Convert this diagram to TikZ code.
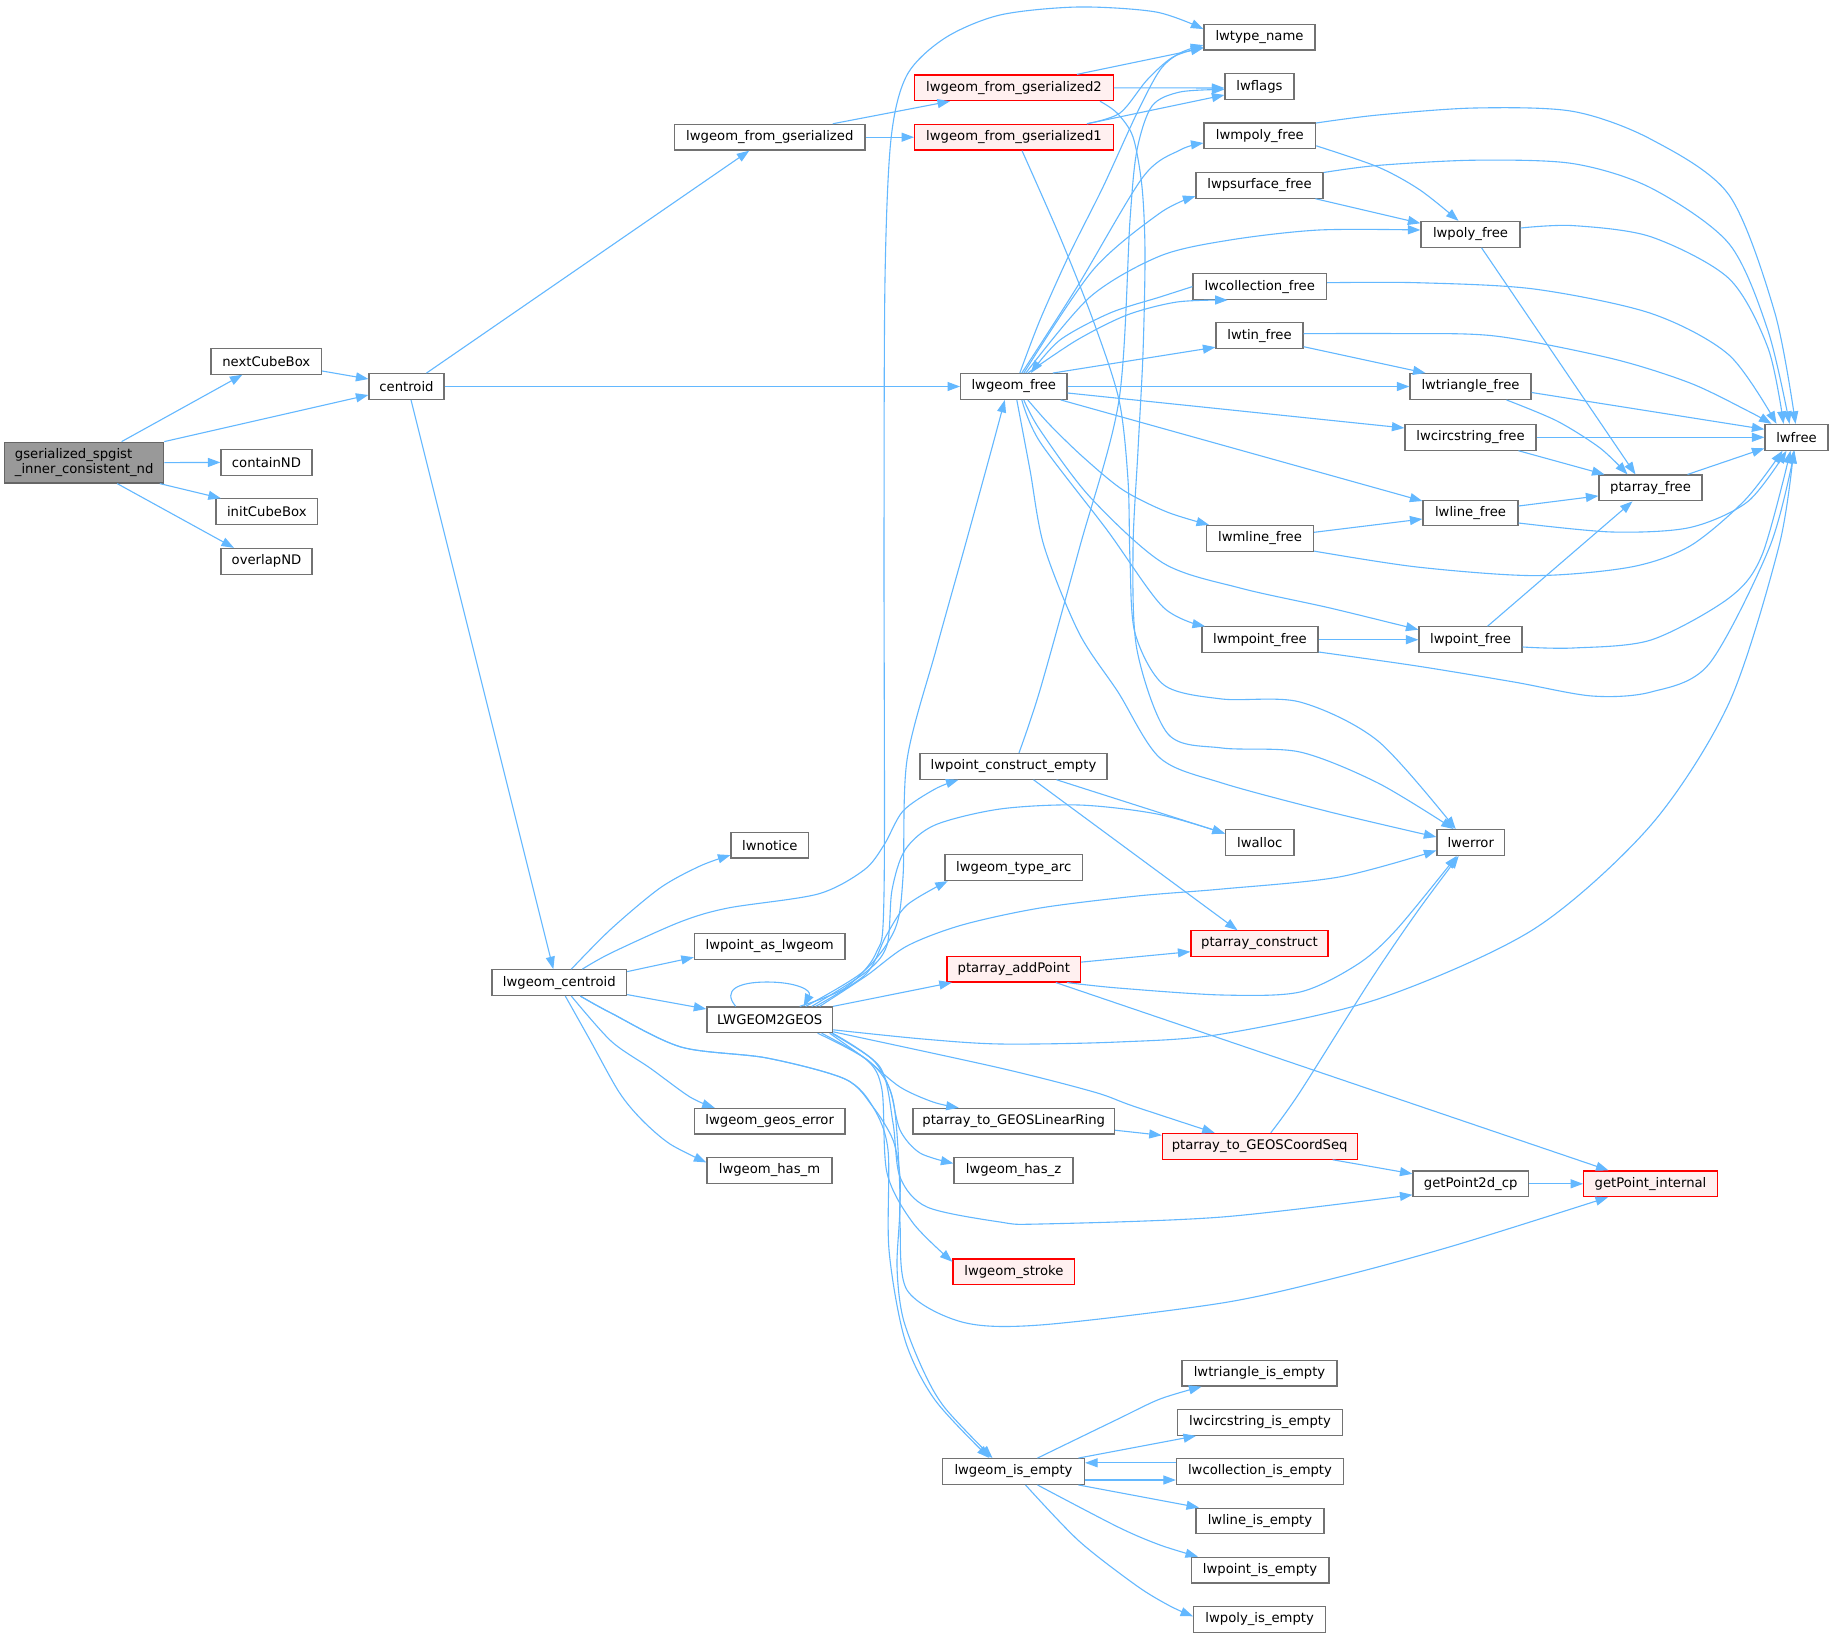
\documentclass[tikz,border=0pt]{standalone}
\usepackage{fontspec}
\setmainfont{DejaVu Sans}
\usetikzlibrary{arrows.meta}
\definecolor{edgec}{HTML}{63B8FF}
\definecolor{bordc}{HTML}{727272}
\definecolor{rootfill}{HTML}{999999}
\definecolor{rootbord}{HTML}{666666}
\definecolor{redfill}{HTML}{FFF0F0}
\definecolor{redbord}{HTML}{FF0000}
\tikzset{
  nb/.style={draw=bordc, fill=white, line width=1.2pt, minimum height=25.7pt, inner sep=0pt, font=\fontsize{13.2}{15}\selectfont},
  rb/.style={nb, draw=redbord, fill=redfill},
  cg/.style={draw=edgec, line width=1.1pt, -{Triangle[length=12.5pt,width=9pt]}, fill=none},
}
\begin{document}
\begin{tikzpicture}[x=1pt,y=-1pt]
\useasboundingbox (0,0) rectangle (1833,1638);
\fill[white] (0,0) rectangle (1833,1638);
% ---------- nodes ----------
\node[nb, fill=rootfill, draw=rootbord, minimum width=159pt, minimum height=40.8pt, align=left, font=\fontsize{13.2}{14.5}\selectfont] (root) at (84.2,462.6) {gserialized\_spgist\\\_inner\_consistent\_nd};
\node[nb, minimum width=110.5pt] (ncb) at (266.3,361.3) {nextCubeBox};
\node[nb, minimum width=75pt] (cen) at (406.5,386.5) {centroid};
\node[nb, minimum width=91pt] (cnd) at (266.5,462.4) {containND};
\node[nb, minimum width=101.6pt] (icb) at (266.8,511.7) {initCubeBox};
\node[nb, minimum width=91pt] (ond) at (266.5,561.3) {overlapND};
\node[nb, minimum width=190.5pt] (fg) at (769.8,137.2) {lwgeom\_from\_gserialized};
\node[rb, minimum width=198.7pt] (fg2) at (1014,87.8) {lwgeom\_from\_gserialized2};
\node[rb, minimum width=198.7pt] (fg1) at (1014,137.2) {lwgeom\_from\_gserialized1};
\node[nb, minimum width=111pt] (tn) at (1259.5,37.1) {lwtype\_name};
\node[nb, minimum width=69pt] (fl) at (1259.5,86.5) {lwflags};
\node[nb, minimum width=111.5pt] (mpf) at (1259.8,135.8) {lwmpoly\_free};
\node[nb, minimum width=127pt] (psf) at (1259.5,185.3) {lwpsurface\_free};
\node[nb, minimum width=99pt] (pf) at (1470.5,234.3) {lwpoly\_free};
\node[nb, minimum width=133.4pt] (cf) at (1259.7,286.6) {lwcollection\_free};
\node[nb, minimum width=87pt] (tf) at (1259.5,335.7) {lwtin\_free};
\node[nb, minimum width=106.4pt] (gf) at (1013.8,386.5) {lwgeom\_free};
\node[nb, minimum width=121pt] (trf) at (1470.5,386.5) {lwtriangle\_free};
\node[nb, minimum width=131pt] (csf) at (1470.5,437.3) {lwcircstring\_free};
\node[nb, minimum width=63pt] (fr) at (1796.5,437.3) {lwfree};
\node[nb, minimum width=103pt] (paf) at (1650.5,487.9) {ptarray\_free};
\node[nb, minimum width=95pt] (lf) at (1470.5,513) {lwline\_free};
\node[nb, minimum width=107pt] (mlf) at (1260,538.3) {lwmline\_free};
\node[nb, minimum width=116pt] (mptf) at (1260,639.7) {lwmpoint\_free};
\node[nb, minimum width=103pt] (ptf) at (1470.5,639.7) {lwpoint\_free};
\node[nb, minimum width=187pt] (pce) at (1013.5,766.3) {lwpoint\_construct\_empty};
\node[nb, minimum width=68.5pt] (al) at (1259.7,842.5) {lwalloc};
\node[nb, minimum width=67.5pt] (er) at (1470.7,842.5) {lwerror};
\node[nb, minimum width=77.6pt] (nt) at (769.8,845.1) {lwnotice};
\node[nb, minimum width=137.5pt] (ta) at (1013.7,867.7) {lwgeom\_type\_arc};
\node[nb, minimum width=150.6pt] (pal) at (769.7,946.3) {lwpoint\_as\_lwgeom};
\node[rb, minimum width=137pt] (pc) at (1259.5,943.7) {ptarray\_construct};
\node[rb, minimum width=133.6pt] (pap) at (1013.8,969.1) {ptarray\_addPoint};
\node[nb, minimum width=134.6pt] (gc) at (559.3,982.6) {lwgeom\_centroid};
\node[nb, minimum width=125.6pt] (lg) at (769.7,1019.8) {LWGEOM2GEOS};
\node[nb, minimum width=150.6pt] (ge) at (769.7,1121.2) {lwgeom\_geos\_error};
\node[nb, minimum width=201.5pt] (lr) at (1013.7,1121.2) {ptarray\_to\_GEOSLinearRing};
\node[rb, minimum width=194.8pt] (cs) at (1259.7,1146.3) {ptarray\_to\_GEOSCoordSeq};
\node[nb, minimum width=125pt] (hm) at (769.5,1170.4) {lwgeom\_has\_m};
\node[nb, minimum width=119pt] (hz) at (1013.5,1170.4) {lwgeom\_has\_z};
\node[nb, minimum width=115.3pt] (g2d) at (1470.7,1183.8) {getPoint2d\_cp};
\node[rb, minimum width=133.6pt] (gpi) at (1650.5,1183.8) {getPoint\_internal};
\node[rb, minimum width=121.8pt] (st) at (1013.9,1271.8) {lwgeom\_stroke};
\node[nb, minimum width=155pt] (trie) at (1259.5,1373.2) {lwtriangle\_is\_empty};
\node[nb, minimum width=164.8pt] (cie) at (1260,1422.4) {lwcircstring\_is\_empty};
\node[nb, minimum width=142pt] (ie) at (1013.5,1471.5) {lwgeom\_is\_empty};
\node[nb, minimum width=167pt] (coe) at (1260,1471.5) {lwcollection\_is\_empty};
\node[nb, minimum width=128pt] (lie) at (1260,1521) {lwline\_is\_empty};
\node[nb, minimum width=137.8pt] (pie) at (1260,1570.1) {lwpoint\_is\_empty};
\node[nb, minimum width=132pt] (pye) at (1259.7,1619.3) {lwpoly\_is\_empty};
% ---------- edges ----------
% root
\draw[cg] ([xshift=37.4]root.north) -- ([xshift=-23.9]ncb.south);
\draw[cg] (root.north east) -- ([yshift=-8.5]cen.west);
\draw[cg] (root.east) -- (cnd.west);
\draw[cg] ([xshift=75.6]root.south) -- ([xshift=-46]icb.north);
\draw[cg] ([xshift=33]root.south) -- ([xshift=-32.5]ond.north);
\draw[cg] ([yshift=-9.7]ncb.east) -- ([yshift=7.5]cen.west);
% centroid
\draw[cg] ([xshift=20]cen.north) -- ([xshift=-20.5]fg.south);
\draw[cg] (cen.east) -- (gf.west);
\draw[cg] ([xshift=4.5]cen.south) -- ([xshift=-6]gc.north);
% from_gserialized
\draw[cg] ([xshift=63]fg.north) -- ([xshift=-64]fg2.south);
\draw[cg] (fg.east) -- (fg1.west);
\draw[cg] ([xshift=63]fg2.north) -- ([yshift=-11]tn.west);
\draw[cg] (fg2.east) -- ([yshift=-1.5]fl.west);
\draw[cg] plot[smooth] coordinates {([xshift=73]fg1.north) (1120,113) (1147,80) (1173,57) ([yshift=-10]tn.west)};
\draw[cg] ([xshift=73]fg1.north) -- ([yshift=-8.5]fl.west);
\draw[cg] plot[smooth] coordinates {([xshift=8]fg1.south) (1060,237) (1093,320) (1119,400) (1128,480) (1130,560) (1135,633) (1164,685) (1222,699) (1300,702) (1378,741) ([xshift=-15]er.north)};
\draw[cg] plot[smooth] coordinates {([xshift=86]fg2.south) (1117,113) (1133,137) (1142,187) (1145,253) (1143,353) (1138,450) (1133,550) (1137,650) (1168,734) (1222,748) (1300,752) (1378,783) ([xshift=-17]er.north)};
% lwpoint_construct_empty
\draw[cg] plot[smooth] coordinates {([xshift=5.5]pce.north) (1040,690) (1080,546) (1119,400) (1130,220) (1137,150) (1152,106) (1180,92) ([yshift=-3]fl.west)};
\draw[cg] ([xshift=43]pce.south) -- ([yshift=9]al.west);
\draw[cg] ([xshift=20]pce.south) -- ([xshift=-22]pc.north);
% lwgeom_free
\draw[cg] plot[smooth] coordinates {([xshift=6]gf.north) (1040,320) (1070,253) (1103,187) (1137,113) (1160,70) (1180,53) ([yshift=-8]tn.west)};
\draw[cg] plot[smooth] coordinates {([xshift=8]gf.north) (1077,287) (1143,177) (1180,150) ([yshift=-7.2]mpf.west)};
\draw[cg] plot[smooth] coordinates {([xshift=10]gf.north) (1093,270) (1160,213) ([yshift=-11]psf.west)};
\draw[cg] plot[smooth] coordinates {([xshift=12]gf.north) (1090,297) (1160,256) (1230,240) (1319,230) ([yshift=4.3]pf.west)};
\draw[cg] plot[smooth] coordinates {([xshift=14]gf.north) (1077,340) (1127,315) (1177,302) ([xshift=-32]cf.south)};
\draw[cg] plot[smooth] coordinates {(cf.west) (1160,297) (1110,313) (1060,340) ([xshift=17]gf.north)};
\draw[cg] ([xshift=39]gf.north) -- ([yshift=-11.5]tf.west);
\draw[cg] (gf.east) -- (trf.west);
\draw[cg] ([yshift=-6.5]gf.east) -- ([yshift=9.3]csf.west);
\draw[cg] ([xshift=47]gf.south) -- ([yshift=12]lf.west);
\draw[cg] plot[smooth] coordinates {([xshift=14]gf.south) (1050,425) (1083,457) (1123,490) (1167,512) ([xshift=-51]mlf.north)};
\draw[cg] plot[smooth] coordinates {([xshift=10]gf.south) (1040,430) (1090,497) (1163,563) (1240,588) (1330,608) ([yshift=10]ptf.west)};
\draw[cg] plot[smooth] coordinates {([xshift=8]gf.south) (1040,442) (1107,530) (1163,607) ([xshift=-55]mptf.north)};
\draw[cg] plot[smooth] coordinates {([xshift=3]gf.south) (1030,470) (1044,546) (1079,633) (1118,692) (1160,758) (1222,783) (1330,812) ([yshift=5.5]er.west)};
% free functions
\draw[cg] plot[smooth] coordinates {([yshift=-10]mpf.east) (1378,167) (1420,190) ([xshift=-12]pf.north)};
\draw[cg] ([xshift=56]psf.south) -- ([yshift=11]pf.west);
\draw[cg] ([yshift=-11]tf.east) -- ([xshift=-45]trf.north);
\draw[cg] ([yshift=6]mlf.east) -- ([yshift=-6]lf.west);
\draw[cg] (mptf.east) -- (ptf.west);
\draw[cg] ([xshift=11]pf.south) -- ([xshift=-15]paf.north);
\draw[cg] plot[smooth] coordinates {([xshift=36]trf.south) (1557,421) (1600,448) ([xshift=-23]paf.north)};
\draw[cg] ([xshift=48]csf.south) -- ([xshift=-46]paf.north);
\draw[cg] ([yshift=7]lf.east) -- ([yshift=-8]paf.west);
\draw[cg] ([xshift=17]ptf.north) -- ([xshift=-18]paf.south);
\draw[cg] ([xshift=37]paf.north) -- ([yshift=-11]fr.west);
\draw[cg] (csf.east) -- (fr.west);
\draw[cg] ([yshift=-6]trf.east) -- ([yshift=8]fr.west);
\draw[cg] plot[smooth] coordinates {([yshift=2]tf.east) (1397,333.6) (1495,336) (1612,358.6) (1690,383) (1748,411) ([xshift=-25]fr.north)};
\draw[cg] plot[smooth] coordinates {([yshift=3.9]cf.east) (1417,282.7) (1534,289) (1651,313.4) (1729,355) ([xshift=-20]fr.north)};
\draw[cg] plot[smooth] coordinates {([yshift=6.3]pf.east) (1573,225.6) (1651,236.8) (1729,278.6) (1768,348) ([xshift=-13]fr.north)};
\draw[cg] plot[smooth] coordinates {([yshift=12.8]psf.east) (1378,165.4) (1475,160.2) (1573,163.6) (1651,188) (1729,243.7) (1768,330.8) ([xshift=-7]fr.north)};
\draw[cg] plot[smooth] coordinates {([yshift=12.8]mpf.east) (1378,115) (1475,108) (1573,111.4) (1651,139.3) (1729,195) (1775,313.4) ([xshift=-1]fr.north)};
\draw[cg] plot[smooth] coordinates {([yshift=-10]lf.east) (1612,532) (1690,527.5) (1748,501.4) ([xshift=-10]fr.south)};
\draw[cg] plot[smooth] coordinates {([yshift=-12.8]mlf.east) (1417,567) (1534,575.6) (1631,567) (1690,546) (1745,500) ([xshift=-14]fr.south)};
\draw[cg] plot[smooth] coordinates {([yshift=-7.3]ptf.east) (1573,648) (1651,640) (1729,598) (1762,555) ([xshift=-6]fr.south)};
\draw[cg] plot[smooth] coordinates {([yshift=-12.3]mptf.east) (1417,666) (1514,682) (1592,696) (1651,692) (1709,664) (1770,546) ([xshift=-2]fr.south)};
% lwgeom_centroid
\draw[cg] plot[smooth] coordinates {([xshift=12]gc.north) (611,929) (660,888) (700,866) ([yshift=-10]nt.west)};
\draw[cg] plot[smooth] coordinates {([xshift=23]gc.north) (611,953) (680,922) (728,908) (818,894) (864,870) (884,845) (903,811) (935,789) ([xshift=-55]pce.south)};
\draw[cg] ([yshift=11]gc.east) -- ([yshift=-11]pal.west);
\draw[cg] ([yshift=-12]gc.east) -- ([yshift=10.8]lg.west);
\draw[cg] plot[smooth] coordinates {([xshift=12]gc.south) (611,1041) (650,1068) (690,1097) ([xshift=-55]ge.north)};
\draw[cg] plot[smooth] coordinates {([xshift=6]gc.south) (590,1040) (619,1092) (642,1120) (670,1144) ([yshift=8]hm.west)};
\draw[cg] plot[smooth] coordinates {([xshift=21]gc.south) (611,1013) (681,1047) (767,1058) (845,1079) (873,1107) (893,1140) (900,1177) (900,1223) (907,1290) (962,1322) (1040,1325) (1222,1303) (1339,1277) (1456,1245) ([xshift=-42.5]gpi.south)};
\draw[cg] plot[smooth] coordinates {([xshift=21]gc.south) (611,1013) (681,1047) (767,1058) (845,1079) (873,1107) (888,1150) (889,1250) (905,1340) (935,1400) ([xshift=-24]ie.north)};
% LWGEOM2GEOS
\draw[cg] ([xshift=-34]lg.north) .. controls (722,990) and (738,982) .. (767,982) .. controls (796,982) and (812,990) .. ([xshift=34]lg.north);
\draw[cg] plot[smooth] coordinates {([xshift=30]lg.north) (845,988) (876,953) (884,894) (884,546) (885,279) (891,139) (907,75) (945,38) (1000,15) (1078,7) (1156,12) ([yshift=8]tn.west)};
\draw[cg] plot[smooth] coordinates {([xshift=36]lg.north) (864,971) (895,929) (903,877) (907,760) (936,650) (965,546) (990,455) ([xshift=-9]gf.south)};
\draw[cg] plot[smooth] coordinates {([xshift=42]lg.north) (866,972) (887,945) (892,890) (905,850) (935,825) (1000,809) (1079,805) (1157,814) ([yshift=9]al.west)};
\draw[cg] plot[smooth] coordinates {([xshift=46]lg.north) (866,974) (886,936) (907,905) ([xshift=-66]ta.south)};
\draw[cg] plot[smooth] coordinates {([xshift=50]lg.north) (866,976) (907,946) (962,925) (1040,908) (1137,896) (1222,889) (1339,877) ([yshift=-8]er.west)};
\draw[cg] (lg.north east) -- ([xshift=-62]pap.south);
\draw[cg] plot[smooth] coordinates {([yshift=-10]lg.east) (923,1039) (1001,1044) (1118,1042) (1222,1034) (1378,999) (1534,929) (1651,825) (1729,703) (1779,546) ([xshift=-3]fr.south)};
\draw[cg] plot[smooth] coordinates {([yshift=-12]lg.east) (1000,1068) (1094,1092) (1133,1106) ([xshift=-45]cs.north)};
\draw[cg] plot[smooth] coordinates {([xshift=60]lg.south) (867,1060) (900,1087) (933,1102) ([xshift=-55]lr.north)};
\draw[cg] plot[smooth] coordinates {([xshift=62]lg.south) (873,1060) (890,1090) (900,1130) (920,1153) ([yshift=7]hz.west)};
\draw[cg] plot[smooth] coordinates {([xshift=52]lg.south) (867,1060) (882,1090) (887,1173) (913,1223) ([yshift=10]st.west)};
\draw[cg] plot[smooth] coordinates {([xshift=63]lg.south) (880,1067) (893,1123) (900,1177) (927,1207) (1000,1222) (1040,1224) (1222,1217) ([yshift=-11]g2d.west)};
\draw[cg] plot[smooth] coordinates {([xshift=48]lg.south) (870,1062) (893,1100) (900,1196) (897,1266) (903,1318) (923,1370) (945,1408) ([xshift=-21]ie.north)};
% ptarray functions
\draw[cg] ([yshift=7]pap.east) -- ([yshift=-8]pc.west);
\draw[cg] plot[smooth] coordinates {([xshift=53]pap.south) (1118,988) (1222,995) (1300,992) (1358,964) (1397,929) ([xshift=-14]er.south)};
\draw[cg] ([xshift=42]pap.south) -- ([xshift=-42]gpi.north);
\draw[cg] ([yshift=-9]lr.east) -- ([yshift=11]cs.west);
\draw[cg] plot[smooth] coordinates {([xshift=11]cs.north) (1300,1092) (1370,981) (1417,912) ([xshift=-12]er.south)};
\draw[cg] ([xshift=73]cs.south) -- ([yshift=10]g2d.west);
\draw[cg] (g2d.east) -- (gpi.west);
% lwgeom_is_empty
\draw[cg] plot[smooth] coordinates {([xshift=24]ie.north) (1118,1419) (1160,1399) ([xshift=-58]trie.south)};
\draw[cg] ([xshift=65]ie.north) -- ([xshift=-64]cie.south);
\draw[cg] ([yshift=-8.5]ie.east) -- ([yshift=-8.5]coe.west);
\draw[cg] ([yshift=8.7]coe.west) -- ([yshift=8.7]ie.east);
\draw[cg] ([xshift=65]ie.south) -- ([xshift=-61]lie.north);
\draw[cg] plot[smooth] coordinates {([xshift=24]ie.south) (1118,1527) (1160,1545) ([xshift=-62]pie.north)};
\draw[cg] plot[smooth] coordinates {([xshift=12]ie.south) (1079,1541) (1137,1586) (1170,1606) ([yshift=3]pye.west)};
\end{tikzpicture}
\end{document}
